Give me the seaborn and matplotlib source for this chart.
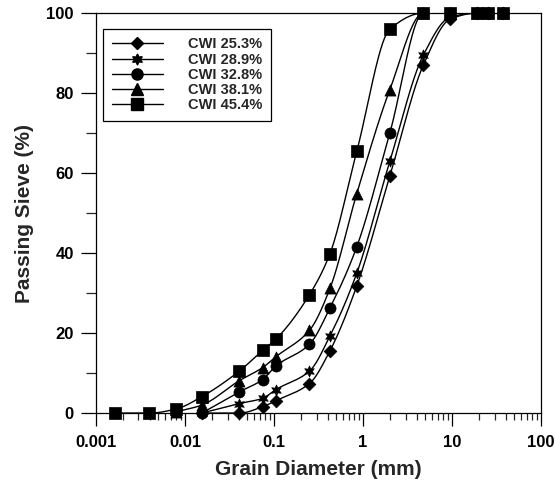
import numpy as np
import pandas as pd
import matplotlib
matplotlib.use("Agg")
import matplotlib.pyplot as plt
import seaborn as sns
from matplotlib.lines import Line2D
from matplotlib.ticker import LogLocator, MultipleLocator, FixedLocator, NullFormatter

# grain sizes (mm): hydrometer + sieve
sizes = [0.00163, 0.00397, 0.00787, 0.0154, 0.0407, 0.0746, 0.105, 0.25,
         0.425, 0.85, 2.0, 4.75, 9.5, 19.0, 25.0, 37.5]

labels = ["CWI 25.3%", "CWI 28.9%", "CWI 32.8%", "CWI 38.1%", "CWI 45.4%"]

# passing (%) - series start at different sizes
cwi_253 = [0, 0, 1.6, 3.1, 7.4, 15.6, 31.8, 59.3, 87.0, 98.5, 100, 100, 100]
cwi_289 = [0, 2.4, 3.7, 5.9, 10.5, 19.3, 35.0, 63.0, 89.5, 99.0, 100, 100, 100]
cwi_328 = [0, 5.3, 8.4, 11.8, 17.2, 26.3, 41.6, 70.1, 100, 100, 100, 100, 100]
cwi_381 = [0.3, 2.0, 8.1, 11.4, 14.1, 20.7, 31.2, 54.9, 80.9, 100, 100, 100, 100, 100]
cwi_454 = [0, 0, 1.0, 4.1, 10.5, 15.7, 18.5, 29.6, 39.9, 65.5, 96.0, 100, 100, 100, 100, 100]

series = [cwi_253, cwi_289, cwi_328, cwi_381, cwi_454]
markers = ["D", (6, 1, 0), "o", "^", "s"]
msizes = [6.5, 8, 8, 8, 8.6]


def pchip(x, y, xn):
    """monotone cubic (Fritsch-Carlson) so the curves don't overshoot"""
    x = np.asarray(x, float)
    y = np.asarray(y, float)
    h = np.diff(x)
    d = np.diff(y) / h
    n = len(x)
    m = np.zeros(n)
    m[0], m[-1] = d[0], d[-1]
    for k in range(1, n - 1):
        if d[k - 1] * d[k] <= 0:
            m[k] = 0.0
        else:
            w1 = 2 * h[k] + h[k - 1]
            w2 = h[k] + 2 * h[k - 1]
            m[k] = (w1 + w2) / (w1 / d[k - 1] + w2 / d[k])
    idx = np.clip(np.searchsorted(x, xn) - 1, 0, n - 2)
    t = (xn - x[idx]) / h[idx]
    h00 = 2 * t**3 - 3 * t**2 + 1
    h10 = t**3 - 2 * t**2 + t
    h01 = -2 * t**3 + 3 * t**2
    h11 = t**3 - t**2
    return h00 * y[idx] + h10 * h[idx] * m[idx] + h01 * y[idx + 1] + h11 * h[idx] * m[idx + 1]


sns.set_style("ticks")
plt.rcParams["font.family"] = ["Liberation Sans", "DejaVu Sans"]
plt.rcParams["font.weight"] = "bold"

fig = plt.figure(figsize=(5.55, 4.86), dpi=100)
ax = fig.add_axes([0.173, 0.150, 0.802, 0.823])

handles = []
for lab, vals, mk, ms in zip(labels, series, markers, msizes):
    xs = sizes[len(sizes) - len(vals):]
    df = pd.DataFrame({"size": xs, "passing": vals})
    lx = np.log10(df["size"].values)
    xn = np.linspace(lx[0], lx[-1], 400)
    yn = pchip(lx, df["passing"].values, xn)
    ax.plot(10**xn, yn, color="black", lw=1.0, zorder=2)
    sns.scatterplot(data=df, x="size", y="passing", marker=mk, s=ms**2,
                    color="black", edgecolor="black", linewidth=0.5,
                    ax=ax, zorder=3, legend=False, clip_on=False)
    handles.append(Line2D([0], [0], color="black", lw=1.0, marker=mk,
                          markersize=ms, markerfacecolor="black",
                          markeredgecolor="black", label=lab))

ax.set_xscale("log")
ax.set_xlim(0.001, 100)
ax.set_ylim(0, 100)
ax.xaxis.set_major_locator(FixedLocator([0.001, 0.01, 0.1, 1, 10, 100]))
ax.xaxis.set_minor_locator(LogLocator(base=10, subs=np.arange(2, 10)))
ax.xaxis.set_minor_formatter(NullFormatter())
ax.set_xticklabels(["0.001", "0.01", "0.1", "1", "10", "100"])
ax.yaxis.set_major_locator(MultipleLocator(20))
ax.yaxis.set_minor_locator(MultipleLocator(10))

for s in ax.spines.values():
    s.set_visible(True)
    s.set_linewidth(0.9)
    s.set_color("black")

ax.tick_params(axis="x", which="major", direction="out", length=9, width=0.9,
               labelsize=12, pad=7, colors="black")
ax.tick_params(axis="x", which="minor", direction="out", length=5, width=0.9)
ax.tick_params(axis="y", which="major", direction="out", length=11, width=0.9,
               labelsize=12, pad=5, colors="black")
ax.tick_params(axis="y", which="minor", direction="out", length=7.5, width=0.9)
for t in ax.get_xticklabels() + ax.get_yticklabels():
    t.set_fontweight("bold")

ax.set_xlabel("Grain Diameter (mm)", fontsize=15, fontweight="bold", labelpad=7)
ax.set_ylabel("Passing Sieve (%)", fontsize=15, fontweight="bold", labelpad=9)

leg = ax.legend(handles=handles, loc="upper left", bbox_to_anchor=(0.016, 0.961),
                borderaxespad=0, frameon=True, fancybox=False, handlelength=3.5,
                handletextpad=1.7, labelspacing=0.08, borderpad=0.6,
                prop={"size": 10.5, "weight": "bold"})
leg.get_frame().set_edgecolor("black")
leg.get_frame().set_linewidth(0.9)
leg.get_frame().set_alpha(1)

fig.savefig("out.png", dpi=100)
